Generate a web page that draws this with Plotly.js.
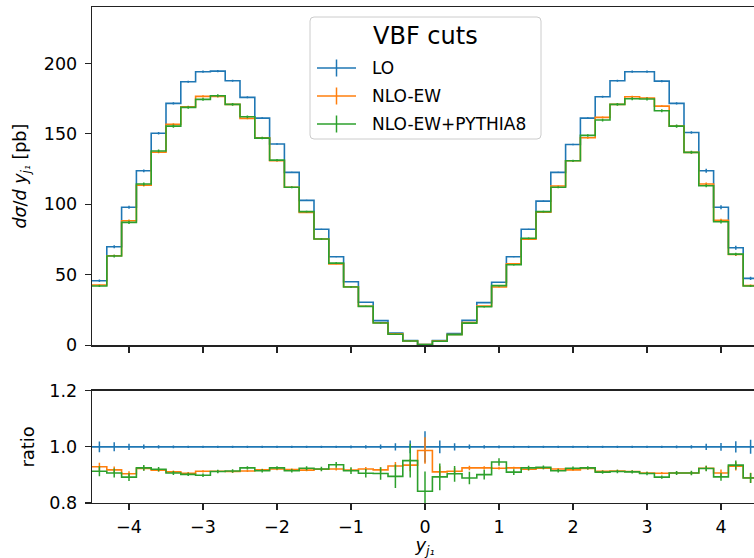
<!DOCTYPE html>
<html>
<head>
<meta charset="utf-8">
<script src="https://cdn.plot.ly/plotly-3.0.1.min.js"></script>
<style>
  html, body { margin: 0; padding: 0; overflow: hidden; background: #fff; }
  #chart { width: 762px; height: 558px; }
</style>
</head>
<body>
<div id="chart"></div>
<script>
// ---- data ----
const binEdges = [-4.5,-4.3,-4.1,-3.9,-3.7,-3.5,-3.3,-3.1,-2.9,-2.7,-2.5,-2.3,-2.1,-1.9,-1.7,-1.5,-1.3,-1.1,-0.9,-0.7,-0.5,-0.3,-0.1,
                  0.1,0.3,0.5,0.7,0.9,1.1,1.3,1.5,1.7,1.9,2.1,2.3,2.5,2.7,2.9,3.1,3.3,3.5,3.7,3.9,4.1,4.3,4.5];
const binCenters = [-4.4,-4.2,-4.0,-3.8,-3.6,-3.4,-3.2,-3.0,-2.8,-2.6,-2.4,-2.2,-2.0,-1.8,-1.6,-1.4,-1.2,-1.0,-0.8,-0.6,-0.4,-0.2,0.0,
                    0.2,0.4,0.6,0.8,1.0,1.2,1.4,1.6,1.8,2.0,2.2,2.4,2.6,2.8,3.0,3.2,3.4,3.6,3.8,4.0,4.2,4.4];

const seriesNames = ["LO", "NLO-EW", "NLO-EW+PYTHIA8"];

// dσ/dy_j1 [pb]
const xsLO = [45.8,69.9,97.9,123.8,150.4,171.6,187.0,194.1,194.5,187.7,175.9,161.2,142.8,122.7,102.8,82.3,62.8,45.1,30.5,17.5,8.7,3.3,0.6,
              3.3,8.4,17.7,30.3,44.7,62.8,82.3,102.3,122.7,142.5,161.2,176.3,187.7,194.1,194.1,187.4,171.6,151.0,123.8,97.9,69.2,47.5];
const xsNLO = [42.8,63.5,88.4,113.5,137.0,156.7,169.2,176.6,176.6,170.9,161.0,147.2,130.9,112.1,94.3,75.4,57.8,41.5,27.7,16.0,8.1,3.1,0.6,
               3.0,7.7,16.2,27.8,41.4,57.9,75.2,94.5,113.0,130.9,147.2,161.7,170.9,176.3,175.4,169.7,155.5,136.9,114.4,88.7,64.4,42.3];
const xsPY = [42.1,63.3,87.2,114.4,137.8,155.5,168.8,174.5,177.0,170.9,162.1,147.0,131.4,112.1,94.8,75.4,58.3,41.4,27.6,15.8,7.8,3.1,0.5,
              2.9,7.6,15.7,27.3,42.3,57.1,75.9,94.8,112.1,130.9,148.9,159.8,170.9,174.9,174.7,166.4,155.5,136.9,113.2,87.7,64.7,42.1];

// ratio to LO
const ratioLO = [1,1,1,1,1,1,1,1,1,1,1,1,1,1,1,1,1,1,1,1,1,1,1,1,1,1,1,1,1,1,1,1,1,1,1,1,1,1,1,1,1,1,1,1,1];
const ratioNLO = [0.929,0.918,0.904,0.923,0.917,0.911,0.906,0.913,0.913,0.912,0.914,0.918,0.921,0.919,0.917,0.920,0.921,0.917,0.921,0.918,0.932,0.935,0.987,
                  0.911,0.913,0.925,0.925,0.924,0.925,0.920,0.924,0.921,0.918,0.923,0.913,0.914,0.912,0.907,0.906,0.907,0.907,0.924,0.907,0.931,0.890];
const ratioPY = [0.913,0.907,0.892,0.925,0.920,0.907,0.902,0.899,0.912,0.914,0.925,0.915,0.925,0.915,0.924,0.921,0.936,0.915,0.906,0.905,0.895,0.951,0.842,
                 0.893,0.904,0.889,0.901,0.946,0.910,0.925,0.927,0.915,0.924,0.925,0.910,0.912,0.911,0.905,0.892,0.907,0.907,0.923,0.893,0.935,0.889];

// relative statistical uncertainties
const relErrLO = [0.019,0.016,0.011,0.008,0.006,0.005,0.004,0.004,0.004,0.004,0.004,0.004,0.004,0.004,0.004,0.004,0.004,0.005,0.006,0.008,0.013,0.023,0.056,
                  0.023,0.013,0.008,0.006,0.005,0.004,0.004,0.004,0.004,0.004,0.004,0.004,0.004,0.004,0.004,0.004,0.005,0.006,0.011,0.014,0.020,0.025];
const relErrNLO = [0.014,0.012,0.009,0.007,0.005,0.005,0.004,0.004,0.004,0.004,0.004,0.004,0.004,0.004,0.004,0.004,0.005,0.006,0.007,0.009,0.014,0.022,0.047,
                   0.020,0.012,0.008,0.006,0.005,0.004,0.004,0.004,0.004,0.004,0.004,0.004,0.004,0.004,0.004,0.004,0.005,0.006,0.009,0.012,0.015,0.018];
const relErrPY = [0.018,0.016,0.014,0.010,0.008,0.007,0.006,0.006,0.006,0.006,0.006,0.006,0.006,0.006,0.007,0.008,0.010,0.012,0.015,0.022,0.042,0.060,0.070,
                  0.048,0.028,0.022,0.017,0.013,0.010,0.008,0.007,0.006,0.006,0.006,0.006,0.006,0.006,0.006,0.006,0.007,0.008,0.010,0.014,0.016,0.018];

const colors = ["#1f77b4", "#ff7f0e", "#2ca02c"];

// ---- traces ----
function stepTrace(vals, color, xa, ya) {
  return {
    type: "scatter", mode: "lines",
    x: binEdges, y: vals.concat([vals[vals.length - 1]]),
    line: { shape: "hv", color: color, width: 1.6 },
    xaxis: xa, yaxis: ya, hoverinfo: "skip", showlegend: false
  };
}
function errTrace(vals, errs, color, xa, ya) {
  return {
    type: "scatter", mode: "markers",
    x: binCenters, y: vals,
    marker: { size: 1, color: "rgba(0,0,0,0)" },
    error_y: { type: "data", array: errs, visible: true, color: color, thickness: 1.5, width: 0 },
    xaxis: xa, yaxis: ya, hoverinfo: "skip", showlegend: false
  };
}

const topSets = [xsLO, xsNLO, xsPY];
const ratioSets = [ratioLO, ratioNLO, ratioPY];
const relSets = [relErrLO, relErrNLO, relErrPY];

const traces = [];
for (let k = 0; k < 3; k++) {
  const absErr = topSets[k].map((v, i) => v * relSets[k][i]);
  traces.push(stepTrace(topSets[k], colors[k], "x", "y"));
  traces.push(errTrace(topSets[k], absErr, colors[k], "x", "y"));
}
for (let k = 0; k < 3; k++) {
  traces.push(stepTrace(ratioSets[k], colors[k], "x2", "y2"));
  traces.push(errTrace(ratioSets[k], relSets[k], colors[k], "x2", "y2"));
}

// ---- manual legend (pixel -> paper helpers) ----
const L = 92, PW = 666, T = 7, PH = 496;
const px = v => (v - L) / PW;
const py = v => (T + PH - v) / PH;

const shapes = [];
const annotations = [];
// legend frame with rounded corners
(function () {
  const x0 = 310, x1 = 541, y0 = 17, y1 = 139, r = 4;
  const P = (x, y) => px(x) + "," + py(y);
  const path = "M" + P(x0 + r, y0) + " L" + P(x1 - r, y0) + " Q" + P(x1, y0) + " " + P(x1, y0 + r) +
    " L" + P(x1, y1 - r) + " Q" + P(x1, y1) + " " + P(x1 - r, y1) +
    " L" + P(x0 + r, y1) + " Q" + P(x0, y1) + " " + P(x0, y1 - r) +
    " L" + P(x0, y0 + r) + " Q" + P(x0, y0) + " " + P(x0 + r, y0) + " Z";
  shapes.push({ type: "path", xref: "paper", yref: "paper", path: path,
    line: { color: "#cccccc", width: 1 }, fillcolor: "rgba(255,255,255,0.8)", layer: "above" });
})();
annotations.push({ xref: "paper", yref: "paper", x: px(425.5), y: py(36), text: "VBF cuts",
  showarrow: false, xanchor: "center", yanchor: "middle",
  font: { family: "DejaVu Sans", size: 24, color: "#000" } });
const entryY = [68, 96, 124];
for (let k = 0; k < 3; k++) {
  shapes.push({ type: "line", xref: "paper", yref: "paper", x0: px(317), x1: px(356), y0: py(entryY[k]), y1: py(entryY[k]),
    line: { color: colors[k], width: 1.5 }, layer: "above" });
  shapes.push({ type: "line", xref: "paper", yref: "paper", x0: px(336.5), x1: px(336.5), y0: py(entryY[k] - 8.5), y1: py(entryY[k] + 8.5),
    line: { color: colors[k], width: 1.5 }, layer: "above" });
  annotations.push({ xref: "paper", yref: "paper", x: px(370), y: py(entryY[k]), text: seriesNames[k],
    showarrow: false, xanchor: "left", yanchor: "middle",
    font: { family: "DejaVu Sans", size: 17, color: "#000" } });
}

// ---- layout ----
const axisCommon = {
  showline: true, mirror: true, linecolor: "#222", linewidth: 1.3,
  ticks: "outside", ticklen: 6, tickwidth: 1.2, tickcolor: "#222",
  showgrid: false, zeroline: false,
  tickfont: { family: "DejaVu Sans", size: 17.5, color: "#000" }
};
const xticks = [-4, -3, -2, -1, 0, 1, 2, 3, 4];

const layout = {
  width: 762, height: 558,
  margin: { l: L, r: 762 - L - PW, t: T, b: 558 - T - PH },
  paper_bgcolor: "#fff", plot_bgcolor: "#fff",
  showlegend: false,
  font: { family: "DejaVu Sans", color: "#000" },
  xaxis: Object.assign({}, axisCommon, {
    domain: [0, 1], range: [-4.5, 4.5], anchor: "y", tickvals: xticks, showticklabels: false
  }),
  xaxis2: Object.assign({}, axisCommon, {
    domain: [0, 1], range: [-4.5, 4.5], anchor: "y2", matches: "x", tickvals: xticks,
    ticklabelstandoff: 2,
    title: { text: "<i>y<sub>j₁</sub></i>", font: { family: "DejaVu Sans", size: 18 }, standoff: 6 }
  }),
  yaxis: Object.assign({}, axisCommon, {
    domain: [(T + PH - 345.3) / PH, 1], range: [0, 240], anchor: "x",
    tickvals: [0, 50, 100, 150, 200], ticklabelstandoff: 4,
    title: { text: "<i>dσ</i>/<i>d y<sub>j₁</sub></i> [pb]", font: { family: "DejaVu Sans", size: 17.5 }, standoff: 12 }
  }),
  yaxis2: Object.assign({}, axisCommon, {
    domain: [0, (T + PH - 390.7) / PH], range: [0.8, 1.2], anchor: "x2",
    tickvals: [0.8, 1.0, 1.2], ticktext: ["0.8", "1.0", "1.2"], ticklabelstandoff: 4,
    title: { text: "ratio", font: { family: "DejaVu Sans", size: 18 }, standoff: 10 }
  }),
  shapes: shapes,
  annotations: annotations
};

Plotly.newPlot("chart", traces, layout, { staticPlot: true, displayModeBar: false });
</script>
</body>
</html>
